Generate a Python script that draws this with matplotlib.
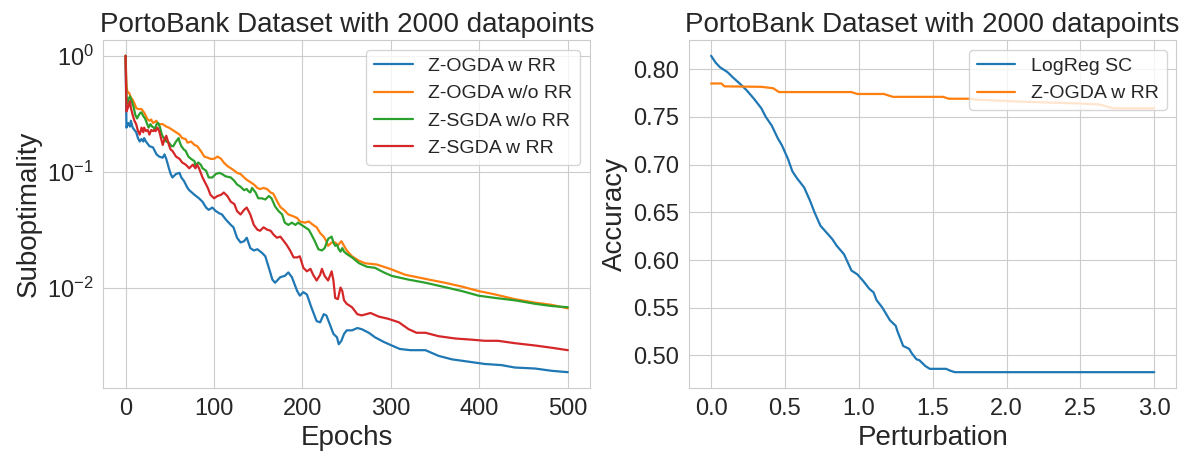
import matplotlib
matplotlib.use("Agg")
import matplotlib.pyplot as plt
from matplotlib.ticker import MultipleLocator, FormatStrFormatter
import seaborn as sns

sns.set_style("whitegrid")
plt.rcParams['font.family'] = ['Liberation Sans', 'DejaVu Sans']

# left panel: suboptimality vs epochs
ogda_rr_ep = [0, 1, 3, 5, 6, 8, 10, 12, 14, 16, 18, 20, 21, 23, 27, 31, 35, 38, 42, 44,
              46, 49, 51, 53, 57, 61, 63, 66, 70, 72, 78, 83, 87, 91, 94, 98, 102, 106, 109, 113,
              119, 122, 126, 130, 134, 137, 141, 145, 149, 154, 158, 162, 166, 169, 175, 180, 184, 188, 194, 197,
              201, 205, 210, 216, 220, 224, 227, 231, 235, 239, 241, 244, 247, 250, 256, 262, 267, 275, 282, 292,
              301, 310, 322, 339, 354, 369, 388, 406, 425, 440, 463, 482, 500]
ogda_rr = [1.0, 0.240, 0.263, 0.245, 0.275, 0.240, 0.229, 0.219, 0.195, 0.182,
           0.191, 0.182, 0.195, 0.182, 0.166, 0.162, 0.141, 0.135, 0.132, 0.141,
           0.129, 0.107, 0.0955, 0.0891, 0.0955, 0.0977, 0.0891, 0.0832, 0.0724, 0.0692,
           0.0631, 0.0589, 0.0550, 0.0490, 0.0468, 0.0490, 0.0457, 0.0437, 0.0427, 0.0389,
           0.0347, 0.0331, 0.0269, 0.0245, 0.0251, 0.0269, 0.0219, 0.0209, 0.0214, 0.0200,
           0.0186, 0.0148, 0.0117, 0.0110, 0.0123, 0.0126, 0.0135, 0.0123, 0.00933, 0.00851,
           0.00912, 0.00871, 0.00676, 0.00513, 0.00501, 0.00589, 0.00575, 0.00479, 0.00398, 0.00372,
           0.00324, 0.00347, 0.00398, 0.00427, 0.00427, 0.00447, 0.00437, 0.00407, 0.00372, 0.00339,
           0.00316, 0.00295, 0.00288, 0.00288, 0.00257, 0.00240, 0.00229, 0.00219, 0.00214, 0.00204,
           0.00200, 0.00191, 0.00186]

ogda_norr_ep = [0, 1, 2, 4, 6, 8, 10, 12, 14, 18, 20, 21, 23, 25, 27, 29, 31, 35, 36, 38,
                42, 46, 49, 53, 57, 61, 64, 68, 70, 74, 78, 81, 85, 89, 93, 96, 100, 104, 108, 111,
                115, 119, 123, 126, 130, 134, 137, 141, 145, 149, 152, 156, 160, 164, 167, 171, 175, 179, 184, 188,
                194, 197, 203, 207, 212, 216, 220, 224, 227, 229, 233, 237, 240, 244, 247, 250, 256, 264, 271, 284,
                299, 316, 343, 361, 380, 399, 418, 440, 463, 482, 500]
ogda_norr = [1.0, 0.550, 0.490, 0.479, 0.437, 0.417, 0.389, 0.355, 0.347, 0.347,
             0.331, 0.324, 0.302, 0.282, 0.275, 0.282, 0.263, 0.275, 0.263, 0.257,
             0.257, 0.245, 0.240, 0.229, 0.219, 0.209, 0.195, 0.191, 0.178, 0.182,
             0.170, 0.166, 0.151, 0.135, 0.132, 0.129, 0.129, 0.135, 0.129, 0.120,
             0.112, 0.107, 0.102, 0.0977, 0.0955, 0.0891, 0.0851, 0.0813, 0.0776, 0.0724,
             0.0708, 0.0724, 0.0708, 0.0661, 0.0646, 0.0562, 0.0495, 0.0468, 0.0427, 0.0417,
             0.0398, 0.0372, 0.0363, 0.0372, 0.0347, 0.0331, 0.0295, 0.0275, 0.0251, 0.0229,
             0.0245, 0.0245, 0.0232, 0.0251, 0.0229, 0.0209, 0.0186, 0.0170, 0.0162, 0.0158,
             0.0145, 0.0129, 0.0117, 0.0110, 0.0102, 0.00933, 0.00871, 0.00794, 0.00741, 0.00708,
             0.00661]

sgda_norr_ep = [0, 1, 2, 3, 5, 7, 9, 11, 13, 15, 17, 18, 20, 22, 24, 26, 28, 30, 32, 33,
                35, 37, 39, 41, 43, 45, 46, 49, 52, 54, 57, 60, 61, 63, 66, 68, 71, 74, 78, 79,
                82, 85, 87, 91, 94, 98, 102, 106, 109, 113, 119, 123, 126, 130, 134, 137, 139, 141, 143, 147,
                150, 154, 158, 162, 165, 169, 173, 177, 180, 184, 188, 192, 195, 199, 203, 207, 210, 214, 218, 222,
                225, 229, 231, 233, 235, 237, 239, 241, 243, 245, 247, 250, 256, 264, 273, 282, 292, 301, 320, 339,
                358, 380, 399, 418, 440, 463, 482, 500]
sgda_norr = [1.0, 0.447, 0.389, 0.417, 0.447, 0.407, 0.363, 0.309, 0.288, 0.309,
             0.324, 0.324, 0.302, 0.288, 0.263, 0.240, 0.257, 0.245, 0.240, 0.229,
             0.257, 0.263, 0.240, 0.209, 0.195, 0.195, 0.182, 0.178, 0.166, 0.166,
             0.182, 0.195, 0.182, 0.166, 0.155, 0.151, 0.135, 0.129, 0.123, 0.112,
             0.120, 0.115, 0.107, 0.102, 0.0891, 0.0891, 0.0955, 0.0977, 0.0955, 0.0912,
             0.0891, 0.0832, 0.0776, 0.0741, 0.0692, 0.0708, 0.0676, 0.0661, 0.0724, 0.0661,
             0.0589, 0.0589, 0.0575, 0.0617, 0.0589, 0.0501, 0.0457, 0.0427, 0.0363, 0.0347,
             0.0363, 0.0347, 0.0363, 0.0347, 0.0331, 0.0316, 0.0288, 0.0251, 0.0214, 0.0209,
             0.0219, 0.0263, 0.0269, 0.0275, 0.0245, 0.0229, 0.0234, 0.0214, 0.0204, 0.0219,
             0.0204, 0.0195, 0.0182, 0.0162, 0.0151, 0.0148, 0.0135, 0.0126, 0.0117, 0.0110,
             0.0102, 0.00933, 0.00851, 0.00813, 0.00776, 0.00724, 0.00692, 0.00676]

sgda_rr_ep = [0, 1, 3, 5, 6, 8, 10, 12, 14, 16, 18, 20, 21, 23, 25, 27, 29, 31, 33, 34,
              36, 38, 40, 42, 44, 46, 48, 49, 51, 53, 57, 61, 64, 68, 72, 76, 79, 81, 83, 87,
              89, 93, 96, 100, 104, 108, 111, 115, 119, 123, 126, 130, 134, 137, 141, 145, 149, 152, 156, 160,
              164, 167, 171, 175, 179, 182, 186, 190, 194, 197, 201, 205, 209, 212, 216, 220, 222, 225, 229, 233,
              235, 237, 240, 243, 245, 247, 250, 256, 262, 267, 277, 286, 297, 309, 320, 329, 339, 354, 373, 391,
              406, 421, 440, 463, 482, 500]
sgda_rr = [1.0, 0.331, 0.363, 0.407, 0.355, 0.309, 0.275, 0.257, 0.224, 0.209,
           0.240, 0.219, 0.240, 0.224, 0.229, 0.209, 0.229, 0.224, 0.229, 0.224,
           0.240, 0.224, 0.195, 0.170, 0.191, 0.204, 0.182, 0.170, 0.155, 0.151,
           0.135, 0.129, 0.120, 0.115, 0.107, 0.115, 0.107, 0.115, 0.107, 0.0891,
           0.0832, 0.0724, 0.0631, 0.0589, 0.0617, 0.0631, 0.0661, 0.0617, 0.0550, 0.0525,
           0.0457, 0.0427, 0.0468, 0.0490, 0.0427, 0.0347, 0.0316, 0.0309, 0.0331, 0.0316,
           0.0309, 0.0288, 0.0269, 0.0275, 0.0251, 0.0234, 0.0209, 0.0182, 0.0182, 0.0186,
           0.0148, 0.0138, 0.0145, 0.0129, 0.0115, 0.0129, 0.0145, 0.0126, 0.0115, 0.0138,
           0.0115, 0.00813, 0.00794, 0.0100, 0.00933, 0.00776, 0.00724, 0.00676, 0.00589, 0.00575,
           0.00603, 0.00562, 0.00537, 0.00501, 0.00437, 0.00407, 0.00407, 0.00380, 0.00363, 0.00355,
           0.00347, 0.00347, 0.00331, 0.00316, 0.00302, 0.00288]

# right panel: accuracy vs perturbation
logreg_x = [0.00, 0.03, 0.06, 0.11, 0.15, 0.20, 0.24, 0.29, 0.34, 0.37,
            0.41, 0.45, 0.48, 0.52, 0.55, 0.58, 0.63, 0.67, 0.70, 0.74,
            0.78, 0.82, 0.85, 0.90, 0.95, 0.99, 1.03, 1.07, 1.10, 1.12,
            1.16, 1.21, 1.25, 1.26, 1.30, 1.34, 1.36, 1.39, 1.41, 1.45,
            1.48, 1.59, 1.62, 1.65, 3.00]
logreg_acc = [0.814, 0.807, 0.802, 0.797, 0.791, 0.784, 0.778, 0.769, 0.759, 0.750,
              0.741, 0.728, 0.720, 0.706, 0.693, 0.686, 0.676, 0.662, 0.650, 0.636,
              0.629, 0.622, 0.615, 0.606, 0.589, 0.585, 0.578, 0.570, 0.566, 0.558,
              0.550, 0.537, 0.531, 0.526, 0.510, 0.507, 0.502, 0.496, 0.495, 0.489,
              0.486, 0.486, 0.484, 0.4825, 0.4825]

zogda_x = [0.00, 0.07, 0.09, 0.34, 0.42, 0.46, 0.95, 0.99, 1.17, 1.23,
           1.57, 1.61, 1.75, 1.80, 2.09, 2.50, 2.63, 2.72, 3.00]
zogda_acc = [0.785, 0.785, 0.782, 0.7815, 0.780, 0.776, 0.776, 0.774, 0.774, 0.771,
             0.771, 0.769, 0.769, 0.768, 0.766, 0.764, 0.763, 0.759, 0.759]

title = "PortoBank Dataset with 2000 datapoints"

fig = plt.figure(figsize=(12.03, 4.57), dpi=100)
ax1 = fig.add_axes([0.086, 0.151, 0.4044, 0.7615])
ax2 = fig.add_axes([0.5727, 0.151, 0.4052, 0.7615])

ax1.plot(ogda_rr_ep, ogda_rr, color='C0', lw=1.6, label='Z-OGDA w RR')
ax1.plot(ogda_norr_ep, ogda_norr, color='C1', lw=1.6, label='Z-OGDA w/o RR')
ax1.plot(sgda_norr_ep, sgda_norr, color='C2', lw=1.6, label='Z-SGDA w/o RR')
ax1.plot(sgda_rr_ep, sgda_rr, color='C3', lw=1.6, label='Z-SGDA w RR')
ax1.set_yscale('log')
ax1.set_title(title, fontsize=20)
ax1.set_xlabel("Epochs", fontsize=20)
ax1.set_ylabel("Suboptimality", fontsize=20)
ax1.tick_params(labelsize=17)
ax1.legend(loc='upper right', fontsize=14)

ax2.plot(logreg_x, logreg_acc, color='C0', lw=1.6, label='LogReg SC')
ax2.plot(zogda_x, zogda_acc, color='C1', lw=1.6, label='Z-OGDA w RR')
ax2.xaxis.set_major_locator(MultipleLocator(0.5))
ax2.xaxis.set_major_formatter(FormatStrFormatter('%.1f'))
ax2.yaxis.set_major_locator(MultipleLocator(0.05))
ax2.yaxis.set_major_formatter(FormatStrFormatter('%.2f'))
ax2.set_title(title, fontsize=20)
ax2.set_xlabel("Perturbation", fontsize=20)
ax2.set_ylabel("Accuracy", fontsize=20)
ax2.tick_params(labelsize=17)
ax2.legend(loc='upper right', fontsize=14)

fig.savefig("out.png", dpi=100)
